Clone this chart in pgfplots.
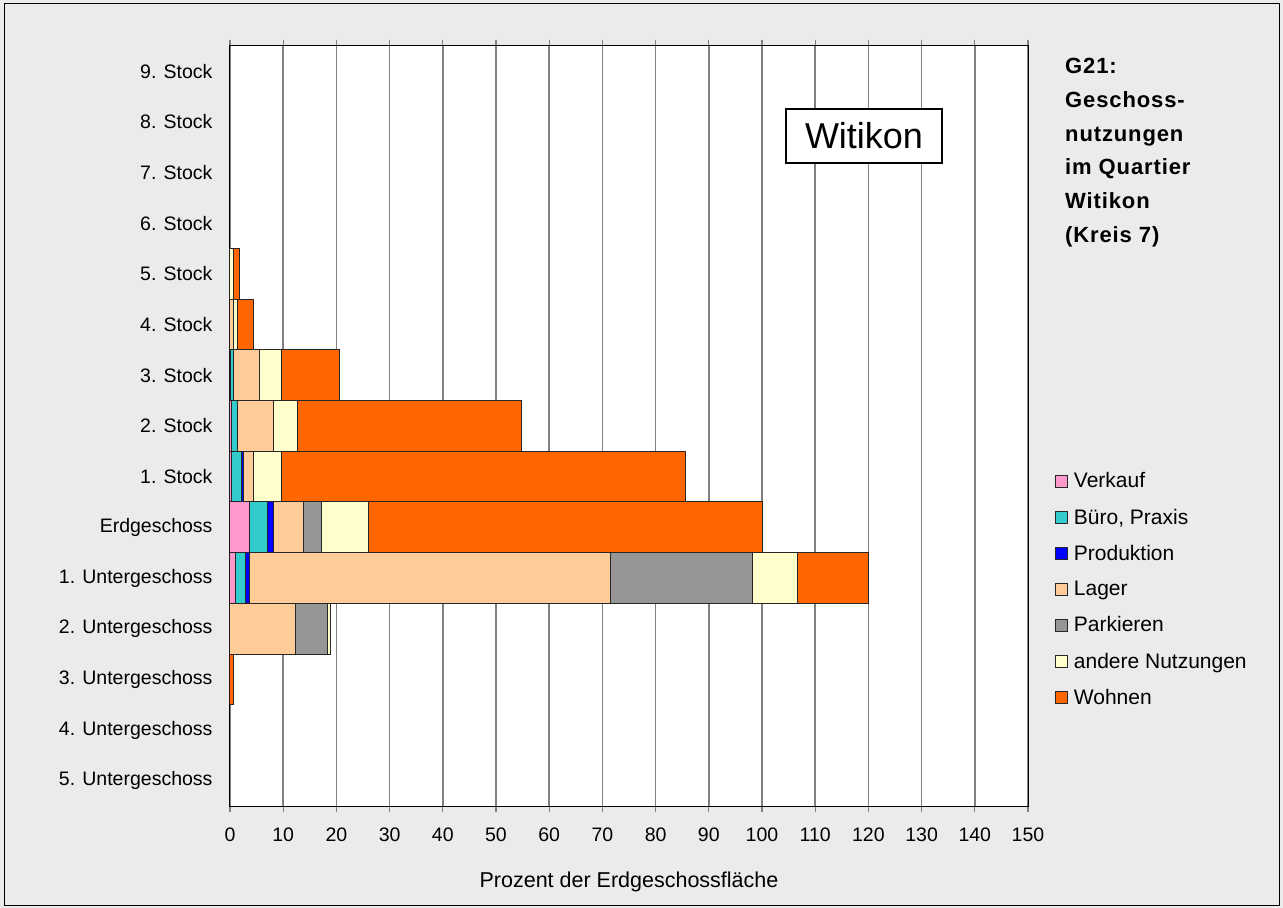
\documentclass[border=0pt]{standalone}
\usepackage{fontspec}
\setmainfont{Liberation Sans}
\newfontfamily\titlefont[LetterSpace=4]{Liberation Sans}
\usepackage{pgfplots}
\usepackage{pgfplotstable}
\pgfplotsset{compat=1.18}

\definecolor{bgcol}{HTML}{EBEBEB}
\definecolor{cVerkauf}{HTML}{FF99CC}
\definecolor{cBuero}{HTML}{33CCCC}
\definecolor{cProd}{HTML}{0000FF}
\definecolor{cLager}{HTML}{FFCC99}
\definecolor{cPark}{HTML}{969696}
\definecolor{cAndere}{HTML}{FFFFCC}
\definecolor{cWohnen}{HTML}{FF6600}
\definecolor{gridcol}{HTML}{808080}

% y: 0 = 5. Untergeschoss ... 14 = 9. Stock
\pgfplotstableread{
y  verkauf buero prod lager park andere wohnen
0  0    0    0   0     0    0    0
1  0    0    0   0     0    0    0
2  0    0    0   0     0    0    0.7
3  0    0    0   12.3  6.1  0.4  0
4  1.0  1.95 0.8 67.7  26.7 8.6  13.2
5  3.6  3.5  1.1 5.65  3.4  8.7  74.1
6  0.2  1.9  0.5 1.9   0    5.2  76.0
7  0.2  1.25 0   6.8   0    4.45 42.1
8  0.1  0.65 0   4.8   0    4.1  11.0
9  0    0    0   0.6   0    0.8  3.1
10 0    0    0   0     0    0.6  1.2
11 0    0    0   0     0    0    0
12 0    0    0   0     0    0    0
13 0    0    0   0     0    0    0
14 0    0    0   0     0    0    0
}\floors

\begin{document}
\begin{tikzpicture}
\path[use as bounding box] (-230bp,-102bp) rectangle (1053bp,806bp);
\fill[bgcol] (-230bp,-102bp) rectangle (1053bp,806bp);
\draw[black, line width=1bp] (-225bp,-99bp) rectangle (1049bp,802bp);
\begin{axis}[
    at={(0,0)}, anchor=south west,
    scale only axis,
    width=798bp, height=760bp,
    xbar stacked,
    bar width=1,
    xmin=0, xmax=150,
    ymin=-0.5, ymax=14.5,
    xtick={0,10,...,150},
    ytick={0,...,14},
    yticklabels={5. Untergeschoss,4. Untergeschoss,3. Untergeschoss,2. Untergeschoss,1. Untergeschoss,Erdgeschoss,1. Stock,2. Stock,3. Stock,4. Stock,5. Stock,6. Stock,7. Stock,8. Stock,9. Stock},
    /pgf/number format/assume math mode=true,
    xticklabel style={font=\fontsize{19.5bp}{22bp}\selectfont, yshift=-12bp},
    yticklabel style={font=\fontsize{19.5bp}{22bp}\selectfont, xshift=-8bp},
    y tick style={draw=none},
    x tick style={gridcol, line width=1.2bp},
    tick align=outside,
    major tick length=6bp,
    xmajorgrids,
    grid style={gridcol, line width=1.5bp},
    axis line style={black, line width=1bp},
    axis background/.style={fill=white},
    xlabel={Prozent der Erdgeschossfläche},
    xlabel style={font=\fontsize{21.5bp}{24bp}\selectfont, yshift=-24bp},
    every axis plot/.append style={draw=black!85, line width=1bp},
    legend style={at={(1.030,0.444)}, anchor=north west, draw=none, fill=none,
        font=\fontsize{21bp}{24bp}\selectfont, row sep=15.5bp,
        /tikz/every odd column/.append style={column sep=4bp}},
    legend cell align=left,
    legend image code/.code={\draw[#1, line width=0.8bp] (0bp,-6bp) rectangle (12bp,6bp);},
]
\addplot[fill=cVerkauf] table[x=verkauf, y=y] {\floors};
\addplot[fill=cBuero] table[x=buero, y=y] {\floors};
\addplot[fill=cProd] table[x=prod, y=y] {\floors};
\addplot[fill=cLager] table[x=lager, y=y] {\floors};
\addplot[fill=cPark] table[x=park, y=y] {\floors};
\addplot[fill=cAndere] table[x=andere, y=y] {\floors};
\addplot[fill=cWohnen] table[x=wohnen, y=y] {\floors};
\legend{Verkauf, {Büro, Praxis}, Produktion, Lager, Parkieren, andere Nutzungen, Wohnen}
\node[draw=black, line width=1.2bp, fill=white, minimum width=156bp, minimum height=54bp,
      font=\fontsize{36bp}{40bp}\selectfont] at (axis description cs:0.7945,0.8816) {Witikon};
\end{axis}
\node[anchor=north west, align=left, inner sep=0pt,
      font=\titlefont\bfseries\fontsize{22bp}{33.8bp}\selectfont] at (835bp,748bp)
      {G21:\\Geschoss-\\nutzungen\\im Quartier\\Witikon\\(Kreis 7)};
\end{tikzpicture}
\end{document}
